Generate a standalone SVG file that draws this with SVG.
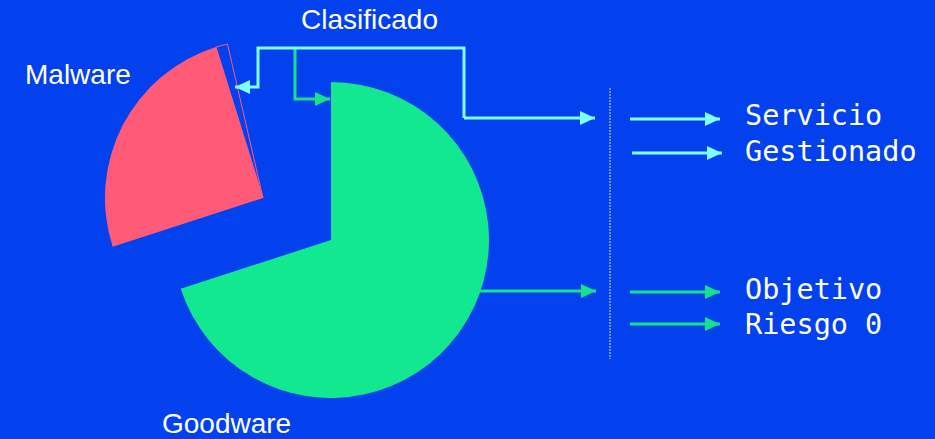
<svg xmlns="http://www.w3.org/2000/svg" width="935" height="439" viewBox="0 0 935 439">
<style>
.lbl{font-family:"Liberation Sans",Arial,sans-serif;font-size:28px;fill:#ffffff}
.mono{font-family:"DejaVu Sans Mono","Liberation Mono",monospace;font-size:28.5px;fill:#ffffff}
.cy{stroke:#80ffff;stroke-width:3;fill:none}
.gr{stroke:#14e38c;stroke-width:3;fill:none}
</style>
<defs>
<marker id="ac" viewBox="0 0 15 14" refX="15" refY="7" markerWidth="15" markerHeight="14" markerUnits="userSpaceOnUse" orient="auto"><path d="M0,0 L15,7 L0,14 Z" fill="#80ffff"/></marker>
<marker id="ag" viewBox="0 0 15 14" refX="15" refY="7" markerWidth="15" markerHeight="14" markerUnits="userSpaceOnUse" orient="auto"><path d="M0,0 L15,7 L0,14 Z" fill="#14e38c"/></marker>
</defs>
<rect width="935" height="439" fill="#0341ef"/>
<g id="goodware">
<path d="M331,240 L331,82 A158,158 0 1 1 180.7,288.8 Z" fill="#12e890"/>
<text class="lbl" x="162" y="433">Goodware</text>
</g>
<g id="malware">
<path d="M263,198 L112.7,246.8 A158,158 0 0 1 216,47.1 Z" fill="#ff5a78"/>
<path d="M263,198 L216,47.1 A158,158 0 0 1 227.5,44.1 Z" fill="none" stroke="#ff5a78" stroke-width="1"/>
<text class="lbl" x="25" y="84">Malware</text>
</g>
<g id="clasificado">
<text class="lbl" x="301" y="29">Clasificado</text>
</g>
<g id="servicio">
<text class="mono" x="745" y="125">Servicio</text>
<text class="mono" x="745" y="161">Gestionado</text>
</g>
<g id="objetivo">
<text class="mono" x="745" y="299">Objetivo</text>
<text class="mono" x="745" y="334">Riesgo 0</text>
</g>
<g id="connectors">
<path class="gr" d="M295,48 L295,99 L330,99" marker-end="url(#ag)"/>
<path class="cy" d="M464,118 L464,48 L258,48 L258,87 L235,87" marker-end="url(#ac)"/>
<path class="cy" d="M464,118 L595,118" marker-end="url(#ac)"/>
<path class="gr" d="M480,291 L596,291" marker-end="url(#ag)"/>
<line x1="610" y1="88" x2="610" y2="359" stroke="#b0c4ff" stroke-width="1.2" stroke-dasharray="2,1"/>
<path class="cy" d="M630,119 L720,119" marker-end="url(#ac)"/>
<path class="cy" d="M632,153 L722,153" marker-end="url(#ac)"/>
<path class="gr" d="M630,292 L720,292" marker-end="url(#ag)"/>
<path class="gr" d="M630,324 L720,324" marker-end="url(#ag)"/>
</g>
</svg>
